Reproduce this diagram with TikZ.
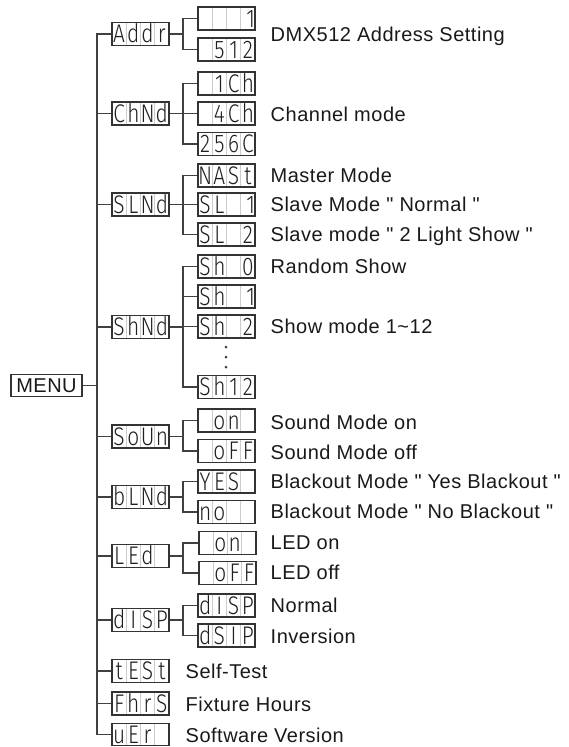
\documentclass[tikz,border=0pt]{standalone}
\usepackage{fontspec}
\setmainfont{Liberation Sans}
\newfontfamily\labfont[LetterSpace=2.5]{Liberation Sans}
\newfontfamily\segfont[FakeStretch=0.82]{Fira Sans Light}
\usetikzlibrary{calc}
\definecolor{linec}{gray}{0.25}
\definecolor{boxc}{gray}{0.2}
\definecolor{sepc}{gray}{0.8}
\definecolor{textc}{gray}{0.1}
\definecolor{segc}{gray}{0.12}
\newcommand\sgcells[4]{\makebox[14.25pt]{#1}\makebox[14.25pt]{#2}\makebox[14.25pt]{#3}\makebox[14.25pt]{#4}}
\begin{document}
\begin{tikzpicture}[x=1pt,y=-1pt,
  conn/.style={draw=linec, line width=1.2pt},
  segbox/.style={draw=boxc, line width=1.1pt, minimum width=57pt, minimum height=23pt,
    inner sep=0pt, text height=17.5pt, text depth=0pt, text=segc,
    font=\segfont\fontsize{25.5pt}{25.5pt}\selectfont,
    path picture={\foreach \f in {0.25,0.5,0.75}{
      \draw[sepc, line width=0.8pt]
        ($(path picture bounding box.south west)!\f!(path picture bounding box.south east)$) --
        ($(path picture bounding box.north west)!\f!(path picture bounding box.north east)$);}}},
  lab/.style={anchor=base west, inner sep=0pt, text=textc, font=\labfont\fontsize{20pt}{24pt}\selectfont},
  dotm/.style={fill=linec}]
\useasboundingbox (0,0) rectangle (568,747);
\coordinate (tk) at (97,0);
\coordinate (bk) at (183,0);

% menu
\node[draw=boxc, line width=1.1pt, minimum width=71pt, minimum height=22pt, inner sep=0pt,
  text height=14.3pt, text depth=0pt, text=textc, font=\labfont\fontsize{20pt}{24pt}\selectfont]
  (menu) at (46.5,385.5) {MENU};

% level 1
\node[segbox] (addr) at (140.5,34) {\sgcells{A}{d}{d}{r}};
\node[segbox] (chnd) at (140.5,113.5) {\sgcells{C}{h}{N}{d}};
\node[segbox] (slnd) at (140.5,204.5) {\sgcells{S}{L}{N}{d}};
\node[segbox] (shnd) at (140.5,327) {\sgcells{S}{h}{N}{d}};
\node[segbox] (soun) at (140.5,436.5) {\sgcells{S}{o}{U}{n}};
\node[segbox] (blnd) at (140.5,497) {\sgcells{b}{L}{N}{d}};
\node[segbox] (led) at (140.5,556) {\sgcells{L}{E}{d}{}};
\node[segbox] (disp) at (140.5,620) {\sgcells{d}{I}{S}{P}};
\node[segbox] (test) at (140.5,671) {\sgcells{t}{E}{S}{t}};
\node[segbox] (fhrs) at (140.5,703.5) {\sgcells{F}{h}{r}{S}};
\node[segbox, minimum height=22pt] (uer) at (140.5,734.5) {\sgcells{u}{E}{r}{}};

% level 2
\node[segbox] (a1) at (226.5,18.5) {\sgcells{}{}{}{\hfill1}};
\node[segbox] (a2) at (226.5,49.5) {\sgcells{}{5}{1}{2}};
\node[segbox] (c1) at (226.5,83.5) {\sgcells{}{1}{C}{h}};
\node[segbox] (c2) at (226.5,113.5) {\sgcells{}{4}{C}{h}};
\node[segbox] (c3) at (226.5,144) {\sgcells{2}{5}{6}{C}};
\node[segbox] (s1) at (226.5,175.5) {\sgcells{N}{A}{S}{t}};
\node[segbox] (s2) at (226.5,204.5) {\sgcells{S}{L}{}{\hfill1}};
\node[segbox] (s3) at (226.5,234.5) {\sgcells{S}{L}{}{2}};
\node[segbox] (h0) at (226.5,266.5) {\sgcells{S}{h}{}{0}};
\node[segbox] (h1) at (226.5,296.5) {\sgcells{S}{h}{}{\hfill1}};
\node[segbox] (h2) at (226.5,326.5) {\sgcells{S}{h}{}{2}};
\node[segbox] (h12) at (226.5,387) {\sgcells{S}{h}{1}{2}};
\node[segbox] (o1) at (226.5,420.5) {\sgcells{}{o}{n}{}};
\node[segbox] (o2) at (226.5,451) {\sgcells{}{o}{F}{F}};
\node[segbox] (b1) at (226.5,481.5) {\sgcells{Y}{E}{S}{}};
\node[segbox] (b2) at (226.5,512) {\sgcells{n}{o}{}{}};
\node[segbox] (e1) at (227.5,543) {\sgcells{}{o}{n}{}};
\node[segbox] (e2) at (227.5,573) {\sgcells{}{o}{F}{F}};
\node[segbox] (d1) at (226.5,605.5) {\sgcells{d}{I}{S}{P}};
\node[segbox] (d2) at (226.5,635.5) {\sgcells{d}{S}{I}{P}};

% dots
\fill[dotm] (226,347) circle (1.5);
\fill[dotm] (226,357) circle (1.5);
\fill[dotm] (226,367) circle (1.5);

% trunk
\draw[conn] (addr.west) -- (addr.west -| tk) -- (uer.west -| tk) -- (uer.west);
\foreach \n in {chnd,slnd,shnd,soun,blnd,led,disp,test,fhrs}
  \draw[conn] (\n.west) -- (\n.west -| tk);
\draw[conn] (menu.east) -- (menu.east -| tk);

% groups
\foreach \p in {addr,chnd,slnd,shnd,soun,blnd,led,disp}
  \draw[conn] (\p.east) -- (\p.east -| bk);
\draw[conn] (a1.west) -- (a1.west -| bk) -- (a2.west -| bk) -- (a2.west);
\draw[conn] (c1.west) -- (c1.west -| bk) -- (c3.west -| bk) -- (c3.west);
\draw[conn] (c2.west) -- (c2.west -| bk);
\draw[conn] (s1.west) -- (s1.west -| bk) -- (s3.west -| bk) -- (s3.west);
\draw[conn] (s2.west) -- (s2.west -| bk);
\draw[conn] (h0.west) -- (h0.west -| bk) -- (h12.west -| bk) -- (h12.west);
\draw[conn] (h1.west) -- (h1.west -| bk);
\draw[conn] (h2.west) -- (h2.west -| bk);
\draw[conn] (o1.west) -- (o1.west -| bk) -- (o2.west -| bk) -- (o2.west);
\draw[conn] (b1.west) -- (b1.west -| bk) -- (b2.west -| bk) -- (b2.west);
\draw[conn] (e1.west) -- (e1.west -| bk) -- (e2.west -| bk) -- (e2.west);
\draw[conn] (d1.west) -- (d1.west -| bk) -- (d2.west -| bk) -- (d2.west);

% labels
\node[lab] (l-addr) at (270.5,41.5) {DMX512 Address Setting};
\node[lab] (l-chnd) at (270.5,121) {Channel mode};
\node[lab] (l-mast) at (270.5,182.5) {Master Mode};
\node[lab] (l-sl1) at (270.5,211.5) {Slave Mode " Normal "};
\node[lab] (l-sl2) at (270.5,241.5) {Slave mode " 2 Light Show "};
\node[lab] (l-rand) at (270.5,273.5) {Random Show};
\node[lab] (l-show) at (270.5,333.5) {Show mode 1\textasciitilde 12};
\node[lab] (l-son) at (270.5,429.5) {Sound Mode on};
\node[lab] (l-soff) at (270.5,459) {Sound Mode off};
\node[lab] (l-byes) at (270.5,488) {Blackout Mode " Yes Blackout "};
\node[lab] (l-bno) at (270.5,518) {Blackout Mode " No Blackout "};
\node[lab] (l-ledon) at (270.5,549.5) {LED on};
\node[lab] (l-ledoff) at (270.5,579.5) {LED off};
\node[lab] (l-norm) at (270.5,612.5) {Normal};
\node[lab] (l-inv) at (270.5,643) {Inversion};
\node[lab] (l-test) at (185.5,678) {Self-Test};
\node[lab] (l-fhrs) at (185.5,711) {Fixture Hours};
\node[lab] (l-ver) at (185.5,742.5) {Software Version};
\end{tikzpicture}
\end{document}
